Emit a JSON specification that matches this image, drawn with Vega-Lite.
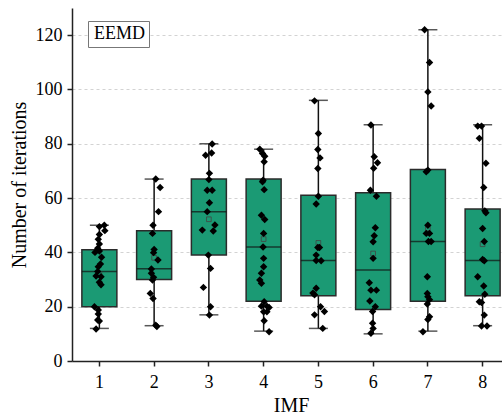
{
  "$schema": "https://vega.github.io/schema/vega-lite/v6.json",
  "width": 430,
  "height": 353,
  "autosize": {"type": "none"},
  "padding": {"left": 72, "top": 8, "right": 0, "bottom": 54},
  "background": "white",
  "datasets": {
    "boxes": [
      {"IMF": 1, "min": 12, "q1": 20, "med": 33, "q3": 41, "max": 50, "mean": 32, "method": "EEMD"},
      {"IMF": 2, "min": 13, "q1": 30, "med": 34, "q3": 48, "max": 67, "mean": 38, "method": "EEMD"},
      {"IMF": 3, "min": 17, "q1": 39, "med": 55, "q3": 67, "max": 80, "mean": 52.2, "method": "EEMD"},
      {"IMF": 4, "min": 11, "q1": 22, "med": 42, "q3": 67, "max": 78, "mean": 44.9, "method": "EEMD"},
      {"IMF": 5, "min": 12, "q1": 24, "med": 37, "q3": 61, "max": 96, "mean": 43.5, "method": "EEMD"},
      {"IMF": 6, "min": 10, "q1": 19, "med": 33.5, "q3": 62, "max": 87, "mean": 39.6, "method": "EEMD"},
      {"IMF": 7, "min": 11, "q1": 22, "med": 44, "q3": 70.5, "max": 122, "mean": 48.8, "method": "EEMD"},
      {"IMF": 8, "min": 13, "q1": 24, "med": 37, "q3": 56, "max": 87, "mean": 43, "method": "EEMD"}
    ],
    "pts": [
      {"IMF": 1, "v": 50, "j": 0.09}, {"IMF": 1, "v": 49.5, "j": 0}, {"IMF": 1, "v": 48, "j": 0.1},
      {"IMF": 1, "v": 46.6, "j": 0}, {"IMF": 1, "v": 44.8, "j": -0.02}, {"IMF": 1, "v": 43.1, "j": 0},
      {"IMF": 1, "v": 41.5, "j": -0.03}, {"IMF": 1, "v": 40.5, "j": 0}, {"IMF": 1, "v": 40, "j": -0.08},
      {"IMF": 1, "v": 38.2, "j": 0.04}, {"IMF": 1, "v": 35.7, "j": 0.02}, {"IMF": 1, "v": 34.7, "j": -0.02},
      {"IMF": 1, "v": 33, "j": -0.03}, {"IMF": 1, "v": 31.3, "j": -0.06}, {"IMF": 1, "v": 31, "j": 0.03},
      {"IMF": 1, "v": 29, "j": 0}, {"IMF": 1, "v": 28.1, "j": 0.03}, {"IMF": 1, "v": 20, "j": -0.09},
      {"IMF": 1, "v": 18.8, "j": -0.02}, {"IMF": 1, "v": 17.3, "j": -0.02}, {"IMF": 1, "v": 15.1, "j": -0.03},
      {"IMF": 1, "v": 14.7, "j": 0}, {"IMF": 1, "v": 11.8, "j": -0.06},
      {"IMF": 2, "v": 67, "j": 0.03}, {"IMF": 2, "v": 63.9, "j": 0.11}, {"IMF": 2, "v": 55, "j": 0.08},
      {"IMF": 2, "v": 50, "j": -0.02}, {"IMF": 2, "v": 47, "j": -0.03}, {"IMF": 2, "v": 41.1, "j": 0},
      {"IMF": 2, "v": 39.9, "j": -0.01}, {"IMF": 2, "v": 37.2, "j": 0.07}, {"IMF": 2, "v": 33.9, "j": -0.05},
      {"IMF": 2, "v": 32.3, "j": -0.05}, {"IMF": 2, "v": 30.8, "j": -0.01}, {"IMF": 2, "v": 29.8, "j": -0.03},
      {"IMF": 2, "v": 24.9, "j": -0.07}, {"IMF": 2, "v": 23, "j": -0.02}, {"IMF": 2, "v": 13.2, "j": 0.03},
      {"IMF": 2, "v": 12.7, "j": 0.05},
      {"IMF": 3, "v": 79.9, "j": 0.06}, {"IMF": 3, "v": 75.8, "j": -0.06}, {"IMF": 3, "v": 76.6, "j": 0.05},
      {"IMF": 3, "v": 69.1, "j": 0.01}, {"IMF": 3, "v": 66.8, "j": 0}, {"IMF": 3, "v": 62.9, "j": -0.03},
      {"IMF": 3, "v": 62.9, "j": 0.06}, {"IMF": 3, "v": 58.3, "j": 0.01}, {"IMF": 3, "v": 55, "j": -0.03},
      {"IMF": 3, "v": 50.1, "j": 0.11}, {"IMF": 3, "v": 48.2, "j": -0.12}, {"IMF": 3, "v": 47.9, "j": 0.08},
      {"IMF": 3, "v": 39, "j": -0.01}, {"IMF": 3, "v": 34.1, "j": 0.03}, {"IMF": 3, "v": 27.1, "j": -0.1},
      {"IMF": 3, "v": 20, "j": 0.03}, {"IMF": 3, "v": 16.9, "j": 0.01},
      {"IMF": 4, "v": 78, "j": -0.07}, {"IMF": 4, "v": 76.4, "j": -0.02}, {"IMF": 4, "v": 75.4, "j": 0.02},
      {"IMF": 4, "v": 73.4, "j": 0.01}, {"IMF": 4, "v": 66.6, "j": -0.01}, {"IMF": 4, "v": 66, "j": -0.02},
      {"IMF": 4, "v": 63.1, "j": 0.01}, {"IMF": 4, "v": 53.7, "j": -0.04}, {"IMF": 4, "v": 52.1, "j": 0.02},
      {"IMF": 4, "v": 47, "j": 0}, {"IMF": 4, "v": 42, "j": -0.01}, {"IMF": 4, "v": 37.8, "j": 0},
      {"IMF": 4, "v": 34.7, "j": 0}, {"IMF": 4, "v": 32.3, "j": -0.04}, {"IMF": 4, "v": 29.8, "j": -0.07},
      {"IMF": 4, "v": 28.6, "j": -0.04}, {"IMF": 4, "v": 21.8, "j": 0.01}, {"IMF": 4, "v": 20.2, "j": 0.06},
      {"IMF": 4, "v": 20.2, "j": -0.04}, {"IMF": 4, "v": 19.7, "j": 0.1}, {"IMF": 4, "v": 18.1, "j": 0},
      {"IMF": 4, "v": 18.1, "j": 0.06}, {"IMF": 4, "v": 14.8, "j": 0.01}, {"IMF": 4, "v": 10.8, "j": 0.1},
      {"IMF": 5, "v": 95.8, "j": -0.07}, {"IMF": 5, "v": 83.8, "j": 0}, {"IMF": 5, "v": 77.9, "j": -0.01},
      {"IMF": 5, "v": 74.8, "j": 0.03}, {"IMF": 5, "v": 70.9, "j": -0.01}, {"IMF": 5, "v": 60.7, "j": 0},
      {"IMF": 5, "v": 57.8, "j": -0.04}, {"IMF": 5, "v": 41.8, "j": -0.01}, {"IMF": 5, "v": 41.8, "j": 0.02},
      {"IMF": 5, "v": 39, "j": -0.04}, {"IMF": 5, "v": 36.9, "j": 0.05}, {"IMF": 5, "v": 37, "j": -0.04},
      {"IMF": 5, "v": 26.8, "j": -0.04}, {"IMF": 5, "v": 25, "j": -0.1}, {"IMF": 5, "v": 24.4, "j": -0.07},
      {"IMF": 5, "v": 20, "j": 0.04}, {"IMF": 5, "v": 18.2, "j": 0.11}, {"IMF": 5, "v": 17, "j": -0.07},
      {"IMF": 5, "v": 12, "j": 0.08},
      {"IMF": 6, "v": 86.9, "j": -0.04}, {"IMF": 6, "v": 75.2, "j": 0.02}, {"IMF": 6, "v": 73, "j": 0.08},
      {"IMF": 6, "v": 71, "j": 0.01}, {"IMF": 6, "v": 62.9, "j": -0.05}, {"IMF": 6, "v": 60.7, "j": 0.06},
      {"IMF": 6, "v": 49.1, "j": 0.04}, {"IMF": 6, "v": 46.1, "j": 0.02}, {"IMF": 6, "v": 43.9, "j": 0},
      {"IMF": 6, "v": 37.8, "j": 0}, {"IMF": 6, "v": 28.8, "j": -0.07}, {"IMF": 6, "v": 26.1, "j": -0.04},
      {"IMF": 6, "v": 26.1, "j": 0.06}, {"IMF": 6, "v": 22.1, "j": -0.06}, {"IMF": 6, "v": 20, "j": 0.04},
      {"IMF": 6, "v": 18.2, "j": -0.01}, {"IMF": 6, "v": 13.9, "j": -0.01}, {"IMF": 6, "v": 12, "j": 0},
      {"IMF": 6, "v": 10.2, "j": -0.04},
      {"IMF": 7, "v": 122, "j": -0.06}, {"IMF": 7, "v": 109.9, "j": 0.03}, {"IMF": 7, "v": 99.1, "j": 0},
      {"IMF": 7, "v": 93.9, "j": 0.06}, {"IMF": 7, "v": 70.3, "j": 0}, {"IMF": 7, "v": 69.7, "j": -0.03},
      {"IMF": 7, "v": 50, "j": 0}, {"IMF": 7, "v": 47, "j": -0.03}, {"IMF": 7, "v": 47, "j": 0.03},
      {"IMF": 7, "v": 44, "j": 0.01}, {"IMF": 7, "v": 44, "j": 0.06}, {"IMF": 7, "v": 31, "j": -0.01},
      {"IMF": 7, "v": 24.9, "j": -0.01}, {"IMF": 7, "v": 23.7, "j": 0}, {"IMF": 7, "v": 22.6, "j": 0.03},
      {"IMF": 7, "v": 21, "j": -0.01}, {"IMF": 7, "v": 16.3, "j": 0.03}, {"IMF": 7, "v": 15.3, "j": 0},
      {"IMF": 7, "v": 10.8, "j": -0.09},
      {"IMF": 8, "v": 86.5, "j": -0.09}, {"IMF": 8, "v": 86.5, "j": -0.02}, {"IMF": 8, "v": 82, "j": -0.06},
      {"IMF": 8, "v": 72.8, "j": 0.06}, {"IMF": 8, "v": 63.9, "j": 0.02}, {"IMF": 8, "v": 55.3, "j": 0.04},
      {"IMF": 8, "v": 54.6, "j": 0.06}, {"IMF": 8, "v": 48.8, "j": 0}, {"IMF": 8, "v": 44, "j": 0.03},
      {"IMF": 8, "v": 37.4, "j": 0}, {"IMF": 8, "v": 36.9, "j": 0.03}, {"IMF": 8, "v": 31, "j": -0.09},
      {"IMF": 8, "v": 27.6, "j": 0.02}, {"IMF": 8, "v": 24.6, "j": 0.04}, {"IMF": 8, "v": 21.8, "j": -0.06},
      {"IMF": 8, "v": 21.5, "j": -0.02}, {"IMF": 8, "v": 16.9, "j": 0.03}, {"IMF": 8, "v": 12.9, "j": -0.02},
      {"IMF": 8, "v": 12.9, "j": 0.08}
    ]
  },
  "encoding": {
    "x": {
      "field": "IMF",
      "type": "ordinal",
      "scale": {"type": "band", "paddingInner": 0, "paddingOuter": 0, "range": [0, 438]},
      "axis": {
        "title": "IMF",
        "labelAngle": 0,
        "tickSize": 5,
        "tickWidth": 1.5,
        "tickColor": "#222",
        "domainColor": "#222",
        "domainWidth": 1.5,
        "labelFontSize": 18,
        "labelColor": "black",
        "labelPadding": 7,
        "titleFontSize": 20,
        "titleFontWeight": "normal",
        "titleColor": "black",
        "titlePadding": 4,
        "grid": false
      }
    }
  },
  "layer": [
    {
      "data": {"name": "boxes"},
      "mark": {"type": "rule", "color": "#111", "strokeWidth": 1.5},
      "encoding": {
        "y": {
          "field": "min",
          "type": "quantitative",
          "scale": {"domain": [0, 130], "nice": false, "zero": false},
          "axis": {
            "title": "Number of iterations",
            "values": [0, 10, 20, 30, 40, 50, 60, 70, 80, 90, 100, 110, 120],
            "labelExpr": "datum.value % 20 === 0 ? datum.label : ''",
            "tickSize": {"condition": {"test": "datum.value % 20 === 0", "value": 5}, "value": 3},
            "tickWidth": 1.5,
            "tickColor": "#222",
            "domainColor": "#222",
            "domainWidth": 1.5,
            "grid": true,
            "gridDash": [3, 3],
            "gridColor": "#c8c8c8",
            "gridWidth": 0.8,
            "labelFontSize": 18,
            "labelColor": "black",
            "labelPadding": 5,
            "titleFontSize": 20,
            "titleFontWeight": "normal",
            "titleColor": "black",
            "titlePadding": 6
          }
        },
        "y2": {"field": "max"}
      }
    },
    {
      "data": {"name": "boxes"},
      "mark": {"type": "bar", "size": 35, "stroke": "#2b2b2b", "strokeWidth": 1.5},
      "encoding": {
        "y": {"field": "q1", "type": "quantitative", "scale": {"domain": [0, 130], "nice": false, "zero": false}},
        "y2": {"field": "q3"},
        "color": {
          "field": "method",
          "type": "nominal",
          "scale": {"range": ["#1b9a74"]},
          "legend": {
            "title": null,
            "orient": "none",
            "legendX": 16,
            "legendY": 13,
            "symbolSize": 0,
            "symbolOpacity": 0,
            "symbolStrokeWidth": 0,
            "symbolStrokeColor": "transparent",
            "symbolFillColor": "transparent",
            "labelOffset": -16,
            "labelFont": "Liberation Serif",
            "labelFontSize": 18,
            "labelColor": "black",
            "padding": 4,
            "strokeColor": "#777",
            "fillColor": "white"
          }
        }
      }
    },
    {
      "data": {"name": "boxes"},
      "mark": {"type": "tick", "size": 35, "thickness": 1.5, "color": "#111"},
      "encoding": {
        "y": {"field": "med", "type": "quantitative", "scale": {"domain": [0, 130], "nice": false, "zero": false}}
      }
    },
    {
      "data": {"name": "boxes"},
      "mark": {"type": "tick", "size": 19, "thickness": 1.5, "color": "#111"},
      "encoding": {
        "y": {"field": "min", "type": "quantitative", "scale": {"domain": [0, 130], "nice": false, "zero": false}}
      }
    },
    {
      "data": {"name": "boxes"},
      "mark": {"type": "tick", "size": 19, "thickness": 1.5, "color": "#111"},
      "encoding": {
        "y": {"field": "max", "type": "quantitative", "scale": {"domain": [0, 130], "nice": false, "zero": false}}
      }
    },
    {
      "data": {"name": "boxes"},
      "mark": {"type": "point", "shape": "square", "size": 22, "filled": false, "stroke": "#444", "strokeWidth": 0.8, "opacity": 1},
      "encoding": {
        "y": {"field": "mean", "type": "quantitative", "scale": {"domain": [0, 130], "nice": false, "zero": false}}
      }
    },
    {
      "data": {"name": "pts"},
      "mark": {"type": "point", "shape": "diamond", "size": 55, "filled": true, "color": "black", "opacity": 1},
      "encoding": {
        "xOffset": {"field": "j", "type": "quantitative", "scale": {"domain": [-0.5, 0.5]}},
        "y": {"field": "v", "type": "quantitative", "scale": {"domain": [0, 130], "nice": false, "zero": false}}
      }
    }
  ],
  "config": {
    "view": {"stroke": null},
    "font": "Liberation Serif",
    "axis": {"labelFont": "Liberation Serif", "titleFont": "Liberation Serif"},
    "legend": {"labelFont": "Liberation Serif"}
  }
}
